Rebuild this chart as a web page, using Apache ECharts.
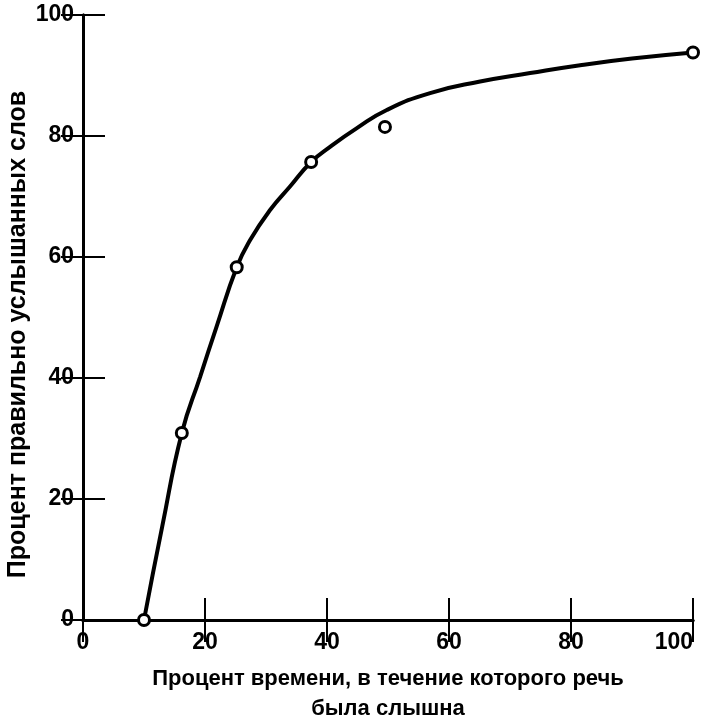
<!DOCTYPE html>
<html>
<head>
<meta charset="utf-8">
<script src="https://cdn.jsdelivr.net/npm/echarts@6/dist/echarts.min.js"></script>
<style>html,body{margin:0;padding:0;background:#fff}#c{width:707px;height:726px}</style>
</head>
<body>
<div id="c"></div>
<script>
var pointX = [10, 16.2, 25.2, 37.4, 49.5, 100];
var pointY = [0, 30.9, 58.3, 75.7, 81.5, 93.8];
var curveX = [10, 13, 16.2, 19.2, 21.9, 25.2, 27.4, 30.7, 33.9, 37.4, 40.5, 44.9, 49.8, 56.9, 65.1, 73.3, 81.5, 90, 100];
var curveY = [0, 15.5, 30.9, 40.2, 48.5, 58.3, 62.8, 67.8, 71.6, 75.7, 78.2, 81.3, 84.3, 87.1, 89.0, 90.4, 91.7, 92.8, 93.8];
var xName = 'Процент времени, в течение которого речь\nбыла слышна';
var yName = 'Процент правильно услышанных слов';

var FONT = '"Liberation Sans", Arial, sans-serif';
var axisLine = { show: true, lineStyle: { color: '#000', width: 3 } };
var axisTick = { show: true, inside: true, length: 22, lineStyle: { color: '#000', width: 2 } };

var chart = echarts.init(document.getElementById('c'));
chart.setOption({
  animation: false,
  backgroundColor: '#fff',
  grid: { left: 83, right: 14, top: 15, bottom: 106, containLabel: false, outerBoundsMode: 'none' },
  xAxis: [
    { type: 'value', min: 0, max: 100, interval: 20, position: 'bottom',
      axisLine: axisLine, axisTick: axisTick, splitLine: { show: false },
      axisLabel: { color: '#000', fontFamily: FONT, fontWeight: 'bold', fontSize: 23, margin: 11, alignMaxLabel: 'right' },
      name: xName, nameLocation: 'middle', nameGap: 44, nameMoveOverlap: false,
      nameTextStyle: { color: '#000', fontFamily: FONT, fontWeight: 'bold', fontSize: 22, lineHeight: 30 } },
    { type: 'value', min: 0, max: 100, interval: 20, position: 'top',
      axisLine: axisLine, axisTick: axisTick, splitLine: { show: false }, axisLabel: { show: false } }
  ],
  yAxis: [
    { type: 'value', min: 0, max: 100, interval: 20, position: 'left',
      axisLine: axisLine, axisTick: axisTick, splitLine: { show: false },
      axisLabel: { color: '#000', fontFamily: FONT, fontWeight: 'bold', fontSize: 23, margin: 9 },
      name: yName, nameLocation: 'middle', nameGap: 52, nameRotate: 90, nameMoveOverlap: false,
      nameTextStyle: { color: '#000', fontFamily: FONT, fontWeight: 'bold', fontSize: 25, padding: [0, 34, 0, 0] } },
    { type: 'value', min: 0, max: 100, interval: 20, position: 'right',
      axisLine: axisLine, axisTick: axisTick, splitLine: { show: false }, axisLabel: { show: false } }
  ],
  series: [
    { type: 'line', smooth: 0.5, symbol: 'none',
      lineStyle: { color: '#000', width: 4 },
      data: curveX.map(function (x, i) { return [x, curveY[i]]; }), z: 2 },
    { type: 'scatter', symbol: 'circle', symbolSize: 11,
      itemStyle: { color: '#fff', borderColor: '#000', borderWidth: 3, opacity: 1 },
      data: pointX.map(function (x, i) { return [x, pointY[i]]; }), z: 5 }
  ]
});
</script>
</body>
</html>
